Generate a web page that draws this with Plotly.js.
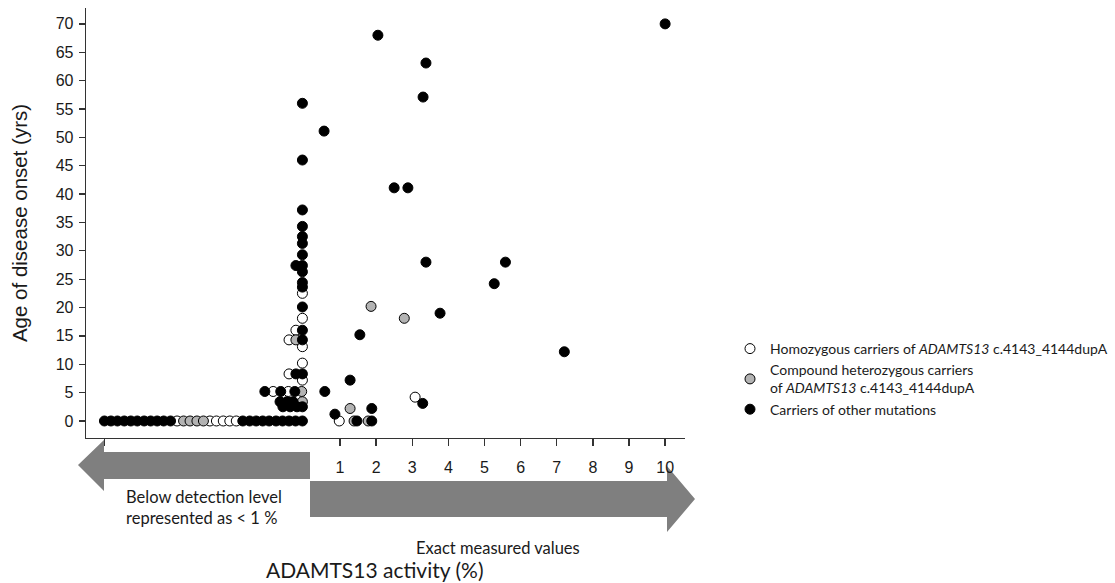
<!DOCTYPE html>
<html>
<head>
<meta charset="utf-8">
<script src="https://cdn.plot.ly/plotly-3.0.1.min.js"></script>
<style>
  html, body { margin: 0; padding: 0; background: #ffffff; }
  #chart { width: 1115px; height: 583px; }
</style>
</head>
<body>
<div id="chart"></div>
<script>
// ---------------- DATA ----------------
// x = ADAMTS13 activity (%); values below detection are spread to the left of 0 (beeswarm)
// Homozygous carriers of ADAMTS13 c.4143_4144dupA (white)
const homoX   = [-3.51, -2.60, -2.42, -2.23, -2.05, -1.87,
                 -0.04, -0.04, -0.22, -0.41, -0.04, -0.04, -0.41, -0.04, -0.85, -0.43,
                 0.98, 3.08];
const homoAge = [0, 0, 0, 0, 0, 0,
                 22.5, 18.1, 16.0, 14.3, 13.1, 10.2, 8.3, 7.2, 5.2, 5.2,
                 0, 4.2];

// Compound heterozygous carriers (grey)
const compX   = [-3.33, -3.15, -2.96, -2.78,
                 -0.22, -0.06, -0.04,
                 1.28, 1.39, 1.78, 1.86, 2.78];
const compAge = [0, 0, 0, 0,
                 14.3, 5.2, 3.4,
                 2.2, 0, 0, 20.2, 18.1];

// Carriers of other mutations (black)
const otherX   = [-5.52, -5.34, -5.16, -4.97, -4.79, -4.61, -4.42, -4.24, -4.06, -3.88, -3.69,
                  -1.69, -1.50, -1.32, -1.14, -0.96, -0.77, -0.59, -0.41, -0.23, -0.04,
                  -0.04, -0.04, -0.04, -0.04, -0.04, -0.04, -0.04, -0.22, -0.04, -0.04,
                  -0.04, -0.04, -0.04, -0.04, -0.04, -0.22, -0.04,
                  -1.08, -0.64, -0.25,
                  -0.66, -0.47, -0.30,
                  -0.58, -0.38, -0.19, -0.04,
                  10.0, 2.05, 3.38, 3.30, 0.56, 2.50, 2.88, 3.38, 5.58, 5.27, 3.77, 1.55, 7.21,
                  0.58, 1.28, 0.86, 1.47, 1.88, 1.88, 3.29];
const otherAge = [0, 0, 0, 0, 0, 0, 0, 0, 0, 0, 0,
                  0, 0, 0, 0, 0, 0, 0, 0, 0, 0,
                  56, 46, 37.2, 34.3, 32.5, 31.3, 29.3, 27.4, 27.4, 26.3,
                  24.4, 23.6, 20.1, 16.0, 14.3, 8.3, 8.3,
                  5.2, 5.2, 5.2,
                  3.4, 3.4, 3.4,
                  2.5, 2.5, 2.5, 2.5,
                  70, 68, 63.1, 57.1, 51.1, 41.1, 41.1, 28.0, 28.0, 24.2, 19.0, 15.2, 12.2,
                  5.2, 7.2, 1.2, 0, 0, 2.2, 3.1];

const xTickVals  = [-5.52, 1, 2, 3, 4, 5, 6, 7, 8, 9, 10];
const xTickText  = ['', '1', '2', '3', '4', '5', '6', '7', '8', '9', '10'];
const yTickVals  = [0, 5, 10, 15, 20, 25, 30, 35, 40, 45, 50, 55, 60, 65, 70];

const legendNames = [
  'Homozygous carriers of <i>ADAMTS13</i> c.4143_4144dupA',
  'Compound heterozygous carriers<br>of <i>ADAMTS13</i> c.4143_4144dupA',
  'Carriers of other mutations'
];

// ---------------- LAYOUT GEOMETRY ----------------
const W = 1115, H = 583;
const M = { l: 86, r: 430, t: 8, b: 145, autoexpand: false };
const PW = W - M.l - M.r, PH = H - M.t - M.b;
const px = v => (v - M.l) / PW;            // pixel x -> paper
const py = v => (H - M.b - v) / PH;        // pixel y -> paper

function poly(pts) {
  return 'M ' + pts.map(p => px(p[0]).toFixed(5) + ',' + py(p[1]).toFixed(5)).join(' L ') + ' Z';
}

const leftArrow = poly([[78, 465], [104, 440], [104, 452], [310, 452], [310, 479], [104, 479], [104, 491]]);
const rightArrow = poly([[310, 481], [667, 481], [667, 466], [695, 499], [667, 532], [667, 517], [310, 517]]);

const markerBase = { size: 10, line: { color: '#000000', width: 1 } };

const traces = [
  { x: homoX, y: homoAge, name: legendNames[0], type: 'scatter', mode: 'markers',
    marker: Object.assign({}, markerBase, { color: '#ffffff' }), cliponaxis: false },
  { x: compX, y: compAge, name: legendNames[1], type: 'scatter', mode: 'markers',
    marker: Object.assign({}, markerBase, { color: '#b3b3b3' }), cliponaxis: false },
  { x: otherX, y: otherAge, name: legendNames[2], type: 'scatter', mode: 'markers',
    marker: Object.assign({}, markerBase, { color: '#000000' }), cliponaxis: false }
];

const textFont = { family: 'Lato, "Open Sans", sans-serif', size: 14, color: '#1a1a1a' };
const annFont = { family: 'Lato, "Open Sans", sans-serif', size: 16.5, color: '#1a1a1a' };

const layout = {
  width: W, height: H,
  margin: M,
  paper_bgcolor: '#ffffff', plot_bgcolor: '#ffffff',
  showlegend: true,
  legend: {
    x: px(1113), y: py(333), xanchor: 'right', yanchor: 'top',
    font: textFont, bgcolor: 'rgba(0,0,0,0)', borderwidth: 0, itemclick: false
  },
  xaxis: {
    range: [-6.03, 10.55], showgrid: false, zeroline: false,
    showline: true, linecolor: '#333333', linewidth: 1.3,
    ticks: 'outside', ticklen: 7, tickwidth: 1.3, tickcolor: '#333333',
    tickvals: xTickVals, ticktext: xTickText, ticklabelstandoff: 7,
    tickfont: { family: 'Liberation Sans, Arial, sans-serif', size: 16, color: '#1a1a1a' }
  },
  yaxis: {
    range: [-3.0, 72.8], showgrid: false, zeroline: false,
    showline: true, linecolor: '#333333', linewidth: 1.3,
    ticks: 'outside', ticklen: 6, tickwidth: 1.3, tickcolor: '#333333',
    tickvals: yTickVals, ticklabelstandoff: 2,
    tickfont: { family: 'Liberation Sans, Arial, sans-serif', size: 16, color: '#1a1a1a' },
    title: { text: 'Age of disease onset (yrs)', standoff: 22,
             font: { family: 'Liberation Sans, Arial, sans-serif', size: 20.5, color: '#1a1a1a' } }
  },
  shapes: [
    { type: 'path', xref: 'paper', yref: 'paper', path: leftArrow, fillcolor: '#7f7f7f', line: { width: 0 }, layer: 'below' },
    { type: 'path', xref: 'paper', yref: 'paper', path: rightArrow, fillcolor: '#7f7f7f', line: { width: 0 }, layer: 'below' }
  ],
  annotations: [
    { xref: 'paper', yref: 'paper', x: px(204), y: py(507), xanchor: 'center', yanchor: 'middle',
      text: 'Below detection level<br>represented as &lt; 1 %', showarrow: false, align: 'left', font: annFont },
    { xref: 'paper', yref: 'paper', x: px(498), y: py(548), xanchor: 'center', yanchor: 'middle',
      text: 'Exact measured values', showarrow: false, font: annFont },
    { xref: 'paper', yref: 'paper', x: px(375), y: py(569), xanchor: 'center', yanchor: 'middle',
      text: 'ADAMTS13 activity (%)', showarrow: false,
      font: { family: 'Lato, "Open Sans", sans-serif', size: 21, color: '#1a1a1a' } }
  ]
};

Plotly.newPlot('chart', traces, layout, { displayModeBar: false, staticPlot: true });
</script>
</body>
</html>
